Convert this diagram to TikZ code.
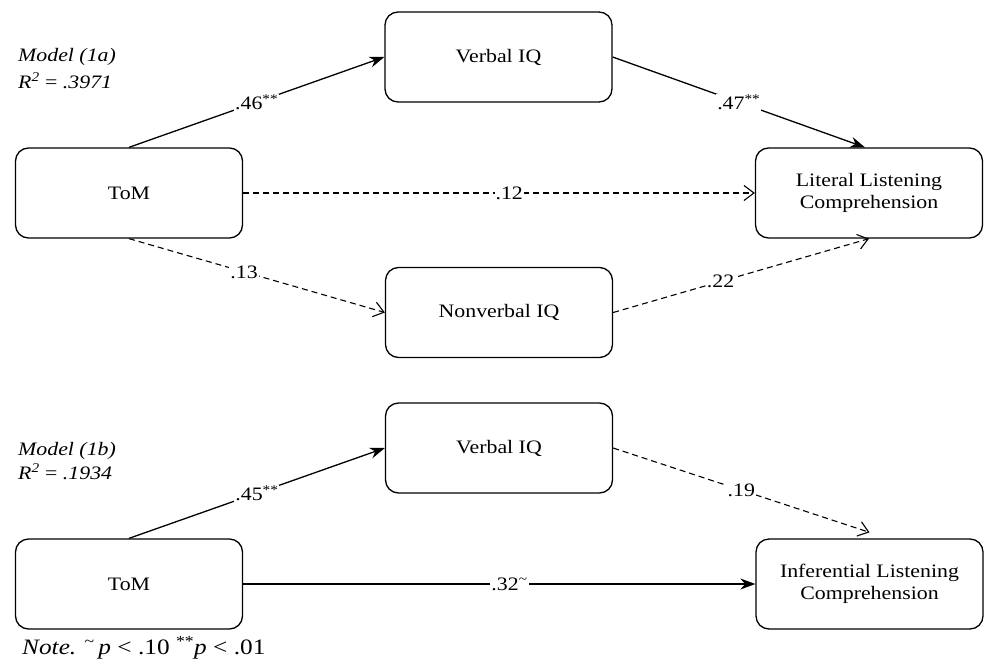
\documentclass[tikz,border=0pt]{standalone}
\usepackage{fontspec}
\setmainfont{Liberation Serif}[FakeStretch=1.15]
\usetikzlibrary{arrows.meta}
\begin{document}
\begin{tikzpicture}[x=1pt,y=-1pt,
  box/.style={draw,line width=1.3pt,rounded corners=13pt,minimum width=227pt,minimum height=90pt,align=center,font=\fontsize{19}{22}\selectfont,inner sep=0pt},
  solidarr/.style={line width=1.3pt,-{Stealth[length=15pt,width=11pt]}},
  dasharr/.style={line width=1.1pt,dash pattern=on 6pt off 4pt,-{Straight Barb[length=10pt,width=15pt]}},
  lab/.style={fill=white,inner sep=1pt,font=\fontsize{19}{21}\selectfont},
  mtxt/.style={anchor=base west,inner sep=0pt,font=\itshape\fontsize{19}{22}\selectfont},
]
\useasboundingbox (0,0) rectangle (984,661);
\fill[white] (0,0) rectangle (984,661);

\node[box] (tom1) at (129,193) {ToM};
\node[box] (viq1) at (498.5,57) {Verbal IQ};
\node[box] (lit) at (869,193) {Literal Listening\\Comprehension};
\node[box] (nviq) at (499,312.5) {Nonverbal IQ};
\node[box] (viq2) at (499,448) {Verbal IQ};
\node[box] (tom2) at (129,584) {ToM};
\node[box] (inf) at (869.5,584) {Inferential Listening\\Comprehension};

\draw[solidarr] (tom1.north) -- (viq1.west) node[lab,pos=0.5]{.46\textsuperscript{**}};
\draw[solidarr] (viq1.east) -- ([xshift=-4pt]lit.north) node[lab,pos=0.5]{.47\textsuperscript{**}};
\draw[dasharr] (tom1.east) -- (lit.west) node[lab,pos=0.52]{.12};
\draw[dasharr] (tom1.south) -- (nviq.west) node[lab,pos=0.45]{.13};
\draw[dasharr] (nviq.east) -- (lit.south) node[lab,pos=0.42]{.22};

\draw[solidarr] (tom2.north) -- (viq2.west) node[lab,pos=0.5]{.45\textsuperscript{**}};
\draw[dasharr] (viq2.east) -- ([yshift=6pt]inf.north) node[lab,pos=0.5]{.19};
\draw[solidarr] (tom2.east) -- (inf.west) node[lab,pos=0.52]{.32\textsuperscript{\textasciitilde}};

\node[mtxt] (m1) at (18,62) {Model (1a)};
\node[mtxt] (r1) at (18,88) {R\textsuperscript{2} \upshape=\itshape\ .3971};
\node[mtxt] (m2) at (18,455) {Model (1b)};
\node[mtxt] (r2) at (18,479) {R\textsuperscript{2} \upshape=\itshape\ .1934};
\node[anchor=base west,inner sep=0pt,font=\fontsize{22}{24}\selectfont] (note) at (22,654) {\textit{Note.} \textsuperscript{\textasciitilde}\,\textit{p} < .10 \textsuperscript{**}\textit{p} < .01};
\end{tikzpicture}
\end{document}
